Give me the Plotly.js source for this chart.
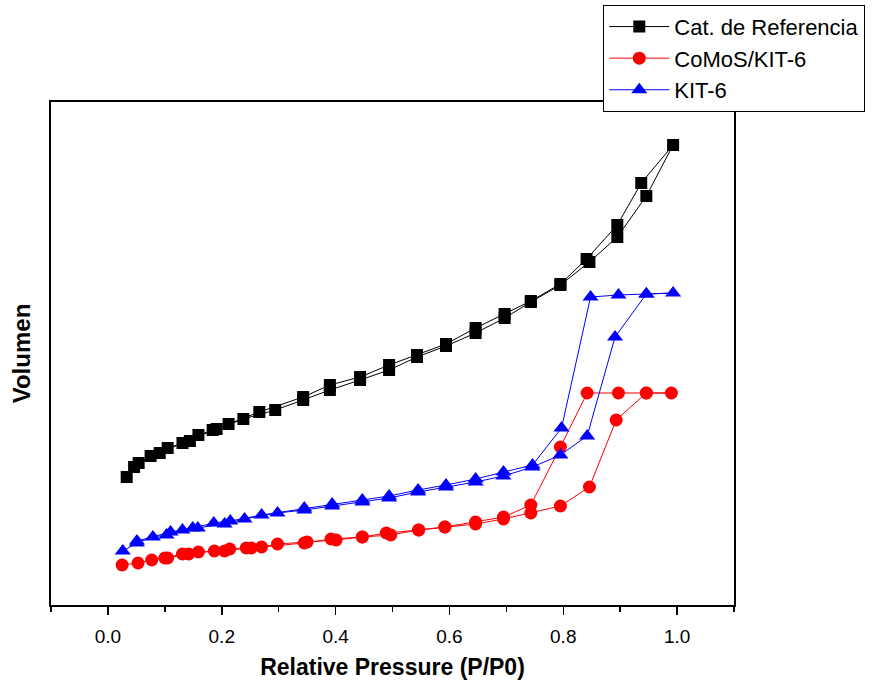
<!DOCTYPE html>
<html>
<head>
<meta charset="utf-8">
<script src="https://cdn.plot.ly/plotly-3.0.1.min.js"></script>
<style>html,body{margin:0;padding:0;background:#fff;}#chart{width:882px;height:680px;}</style>
</head>
<body>
<div id="chart"></div>
<script>
// Relative pressure (P/P0) and volume (arbitrary units)
const refAdsX = [0.033, 0.054, 0.091, 0.131, 0.159, 0.191, 0.238, 0.294, 0.343, 0.390, 0.443, 0.494, 0.543, 0.594, 0.646, 0.697, 0.743, 0.795, 0.846, 0.895, 0.946, 0.993];
const refAdsY = [128, 142, 152, 162, 170, 176, 186, 195, 205, 215, 225, 235, 248, 259, 272, 287, 303, 320, 343, 368, 409, 460];
const refDesX = [0.937, 0.895, 0.841, 0.795, 0.743, 0.697, 0.646, 0.594, 0.543, 0.494, 0.443, 0.390, 0.343, 0.266, 0.212, 0.184, 0.144, 0.105, 0.075, 0.046];
const refDesY = [422, 380, 346, 321, 304, 291, 277, 261, 250, 240, 228, 220, 208, 193, 181, 175, 164, 157, 149, 138];

const comoAdsX = [0.025, 0.053, 0.077, 0.100, 0.131, 0.159, 0.205, 0.243, 0.270, 0.298, 0.350, 0.401, 0.447, 0.497, 0.546, 0.592, 0.646, 0.695, 0.743, 0.795, 0.846, 0.893, 0.946, 0.990];
const comoAdsY = [40, 42, 45, 47, 51, 53, 54, 57, 58, 61, 63, 65, 68, 70, 75, 78, 81, 86, 92, 99, 118, 185, 212, 212];
const comoDesX = [0.946, 0.897, 0.842, 0.795, 0.743, 0.695, 0.646, 0.592, 0.546, 0.489, 0.447, 0.392, 0.345, 0.252, 0.214, 0.187, 0.142, 0.105];
const comoDesY = [212, 212, 212, 158, 100, 88, 83, 78, 75, 72, 68, 66, 62, 57, 56, 54, 51, 47];

const kitAdsX = [0.026, 0.051, 0.079, 0.103, 0.131, 0.158, 0.205, 0.240, 0.298, 0.345, 0.394, 0.447, 0.494, 0.545, 0.594, 0.646, 0.695, 0.746, 0.795, 0.842, 0.891, 0.946, 0.993];
const kitAdsY = [54, 62, 68, 70, 75, 77, 81, 86, 92, 95, 99, 103, 107, 113, 118, 123, 129, 138, 150, 169, 268, 311, 312];
const kitDesX = [0.946, 0.897, 0.848, 0.797, 0.746, 0.695, 0.646, 0.594, 0.545, 0.494, 0.447, 0.394, 0.345, 0.270, 0.215, 0.186, 0.149, 0.110, 0.051];
const kitDesY = [311, 310, 308, 177, 140, 133, 126, 120, 115, 109, 105, 101, 97, 90, 84, 82, 77, 73, 64];

const names = ["Cat. de Referencia", "CoMoS/KIT-6", "KIT-6"];
const colors = ["#000000", "#ff0000", "#0000ff"];
const symbols = ["square", "circle", "triangle-up"];
const sizes = [12, 13, 14];

const xs = [refAdsX.concat(refDesX), comoAdsX.concat(comoDesX), kitAdsX.concat(kitDesX)];
const ys = [refAdsY.concat(refDesY), comoAdsY.concat(comoDesY), kitAdsY.concat(kitDesY)];

const traces = names.map((n, i) => ({
  type: "scatter",
  mode: "lines+markers",
  name: n,
  x: xs[i],
  y: ys[i],
  line: {color: colors[i], width: 1},
  marker: {color: colors[i], symbol: symbols[i], size: sizes[i]},
  cliponaxis: false
}));

const layout = {
  width: 882,
  height: 680,
  margin: {l: 51, r: 148, t: 102, b: 75, autoexpand: false},
  paper_bgcolor: "#ffffff",
  plot_bgcolor: "#ffffff",
  font: {family: "Liberation Sans, Arial, sans-serif", color: "#000"},
  showlegend: true,
  legend: {
    xref: "container", yref: "container",
    x: 0.684, y: 0.993, xanchor: "left", yanchor: "top",
    bgcolor: "#ffffff", bordercolor: "#000", borderwidth: 1,
    font: {size: 22, color: "#000"},
    itemwidth: 60
  },
  xaxis: {
    range: [-0.1, 1.1],
    tickmode: "array",
    tickvals: [0, 0.2, 0.4, 0.6, 0.8, 1.0],
    ticktext: ["0.0", "0.2", "0.4", "0.6", "0.8", "1.0"],
    ticks: "outside", ticklen: 8, tickwidth: 1.5, tickcolor: "#000",
    ticklabelstandoff: 5,
    minor: {dtick: 0.1, tick0: 0, ticks: "outside", ticklen: 5, tickwidth: 1.5, tickcolor: "#000"},
    showline: true, linecolor: "#000", linewidth: 2, mirror: true,
    showgrid: false, zeroline: false,
    tickfont: {size: 19, color: "#000"},
    title: {text: "<b>Relative Pressure (P/P0)</b>", font: {size: 23, color: "#000"}, standoff: 16}
  },
  yaxis: {
    range: [0, 503],
    showticklabels: false,
    ticks: "",
    showline: true, linecolor: "#000", linewidth: 2, mirror: true,
    showgrid: false, zeroline: false,
    title: {text: "<b>Volumen</b>", font: {size: 24, color: "#000"}, standoff: 12}
  }
};

Plotly.newPlot("chart", traces, layout, {displayModeBar: false, staticPlot: true});
</script>
</body>
</html>
